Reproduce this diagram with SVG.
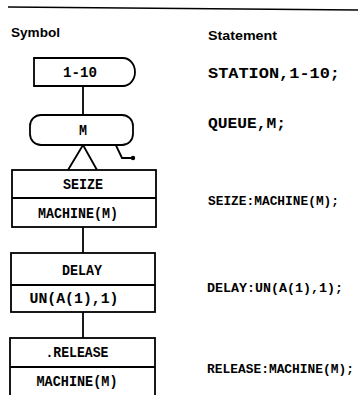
<svg xmlns="http://www.w3.org/2000/svg" width="358" height="395" viewBox="0 0 358 395">
<style>
.bg{fill:#fff}
.s{fill:none;stroke:#000;stroke-width:1.8;stroke-linejoin:round}
.b{fill:#fff;stroke:#000;stroke-width:1.8}
.h{font-family:"Liberation Sans",Arial,sans-serif;font-weight:bold;font-size:12px;fill:#000}
.t{font-family:"Liberation Mono","DejaVu Sans Mono",monospace;font-weight:bold;font-size:15px;fill:#000}
.n{font-size:13px}
.m{text-anchor:middle}
</style>
<rect class="bg" x="0" y="0" width="358" height="395"/>
<line x1="8" y1="7" x2="358" y2="10" stroke="#000" stroke-width="1.5"/>
<text class="h" x="11" y="37" textLength="49" lengthAdjust="spacingAndGlyphs">Symbol</text>
<text class="h" x="208" y="40" textLength="69" lengthAdjust="spacingAndGlyphs">Statement</text>

<g id="connectors">
<line class="s" x1="83" y1="86" x2="83" y2="115"/>
<polyline class="s" points="68,170 83,145 97,170"/>
<line class="s" x1="83" y1="227" x2="83" y2="253"/>
<line class="s" x1="83" y1="312" x2="83" y2="338"/>
<polyline class="s" points="112,137 122,158 133,158"/>
<circle cx="133" cy="158" r="2.2" fill="#000"/>
</g>

<g id="station">
<path class="b" d="M34,58 H123 A12,14 0 0 1 123,86 H34 Z"/>
<text class="t m" x="80" y="77" textLength="34" lengthAdjust="spacingAndGlyphs">1-10</text>
</g>

<g id="queue">
<rect class="b" x="30" y="115" width="103" height="30" rx="11" ry="11"/>
<text class="t m" x="83" y="135" textLength="8" lengthAdjust="spacingAndGlyphs">M</text>
</g>

<g id="seize">
<rect class="b" x="12" y="170" width="144" height="57"/>
<line class="s" x1="12" y1="198" x2="156" y2="198"/>
<text class="t m" x="83" y="189" textLength="40" lengthAdjust="spacingAndGlyphs">SEIZE</text>
<text class="t m" x="78" y="218" textLength="80" lengthAdjust="spacingAndGlyphs">MACHINE(M)</text>
</g>

<g id="delay">
<rect class="b" x="11" y="253" width="144" height="59"/>
<line class="s" x1="11" y1="285" x2="155" y2="285"/>
<text class="t m" x="82" y="275" textLength="40" lengthAdjust="spacingAndGlyphs">DELAY</text>
<text class="t m" x="74" y="303" textLength="89" lengthAdjust="spacingAndGlyphs">UN(A(1),1)</text>
</g>

<g id="release">
<rect class="b" x="10" y="338" width="145" height="60"/>
<line class="s" x1="10" y1="367" x2="155" y2="367"/>
<text class="t m" x="77" y="357" textLength="63" lengthAdjust="spacingAndGlyphs">.RELEASE</text>
<text class="t m" x="77" y="386" textLength="81" lengthAdjust="spacingAndGlyphs">MACHINE(M)</text>
</g>

<g id="statements">
<text class="t" x="208" y="78" textLength="132" lengthAdjust="spacingAndGlyphs">STATION,1-10;</text>
<text class="t" x="208" y="128" textLength="78" lengthAdjust="spacingAndGlyphs">QUEUE,M;</text>
<text class="t n" x="208" y="205" textLength="131" lengthAdjust="spacingAndGlyphs">SEIZE:MACHINE(M);</text>
<text class="t n" x="207" y="292" textLength="136" lengthAdjust="spacingAndGlyphs">DELAY:UN(A(1),1);</text>
<text class="t n" x="207" y="373" textLength="147" lengthAdjust="spacingAndGlyphs">RELEASE:MACHINE(M);</text>
</g>
</svg>
